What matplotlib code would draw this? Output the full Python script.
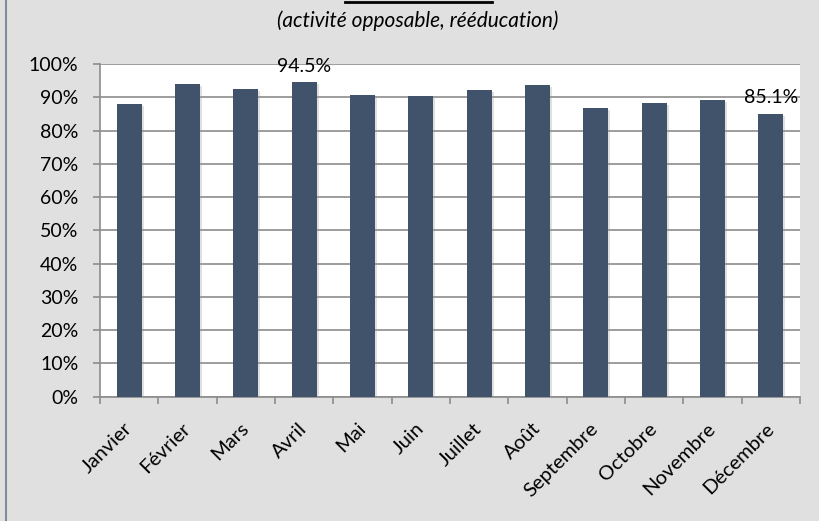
import numpy as np
from matplotlib import pyplot as plt
from matplotlib.lines import Line2D
import matplotlib.patheffects as pe

# monthly rate (activité opposable, rééducation)
months = ["Janvier", "Février", "Mars", "Avril", "Mai", "Juin", "Juillet",
          "Août", "Septembre", "Octobre", "Novembre", "Décembre"]
rates = [87.9, 93.9, 92.6, 94.5, 90.7, 90.4, 92.1, 93.8, 86.7, 88.3, 89.2, 85.1]
labelled = ["Avril", "Décembre"]
subtitle = "(activité opposable, rééducation)"

plt.rcParams['font.family'] = ['Lato', 'DejaVu Sans']

bg = "#e0e0e0"
fig = plt.figure(figsize=(8.2, 5.21), dpi=100, facecolor=bg)
ax = fig.add_axes([100/820, 1-396.7/521, 700/820, (396.7-64)/521])
ax.set_facecolor("white")

x = np.arange(len(months))
bars = ax.bar(x, rates, width=0.43, color="#41526b", zorder=3)
for b in bars:
    b.set_path_effects([pe.SimplePatchShadow(offset=(1.5, -1.5), shadow_rgbFace="#999999", alpha=0.3),
                        pe.Normal()])

for i in range(len(months)):
    if months[i] in labelled:
        ax.text(x[i], rates[i] + 2.2, "%.1f%%" % rates[i], ha="center", va="bottom",
                fontsize=14, color="black", zorder=4)

ax.set_xlim(-0.5, len(months) - 0.5)
ax.set_ylim(0, 100)
ax.set_yticks(np.arange(0, 101, 10))
ax.set_yticklabels(["%d%%" % v for v in range(0, 101, 10)], fontsize=14)
ax.yaxis.grid(True, color="#8c8c8c", linewidth=1.2, zorder=0)
ax.set_axisbelow(True)

# ticks at category boundaries, labels at centres
ax.set_xticks(np.arange(len(months) + 1) - 0.5)
ax.set_xticklabels([])
ax.set_xticks(x, minor=True)
ax.set_xticklabels(months, minor=True, rotation=45, ha="right", va="center",
                   rotation_mode="anchor", fontsize=14.5)
ax.tick_params(axis="x", which="minor", length=0, pad=21)
ax.tick_params(axis="x", which="major", length=5, color="#8c8c8c", width=1.2)
ax.tick_params(axis="y", length=5, color="#8c8c8c", width=1.2, pad=10.5)

for s in ["top", "right"]:
    ax.spines[s].set_visible(False)
ax.spines["left"].set_color("#8c8c8c")
ax.spines["bottom"].set_color("#8c8c8c")
ax.spines["left"].set_linewidth(1.2)
ax.spines["bottom"].set_linewidth(1.2)

fig.text(418/820, 1-21/521, subtitle, ha="center", va="center", fontsize=15, style="italic")

# bits of the chart frame and the clipped title underline
fig.add_artist(Line2D([6.5/820, 6.5/820], [0, 1], color="#7f8a9a", linewidth=1.5))
fig.add_artist(Line2D([345/820, 492/820], [1-1.5/521, 1-1.5/521], color="black", linewidth=2))

fig.savefig("out.png", dpi=100, facecolor=bg)
